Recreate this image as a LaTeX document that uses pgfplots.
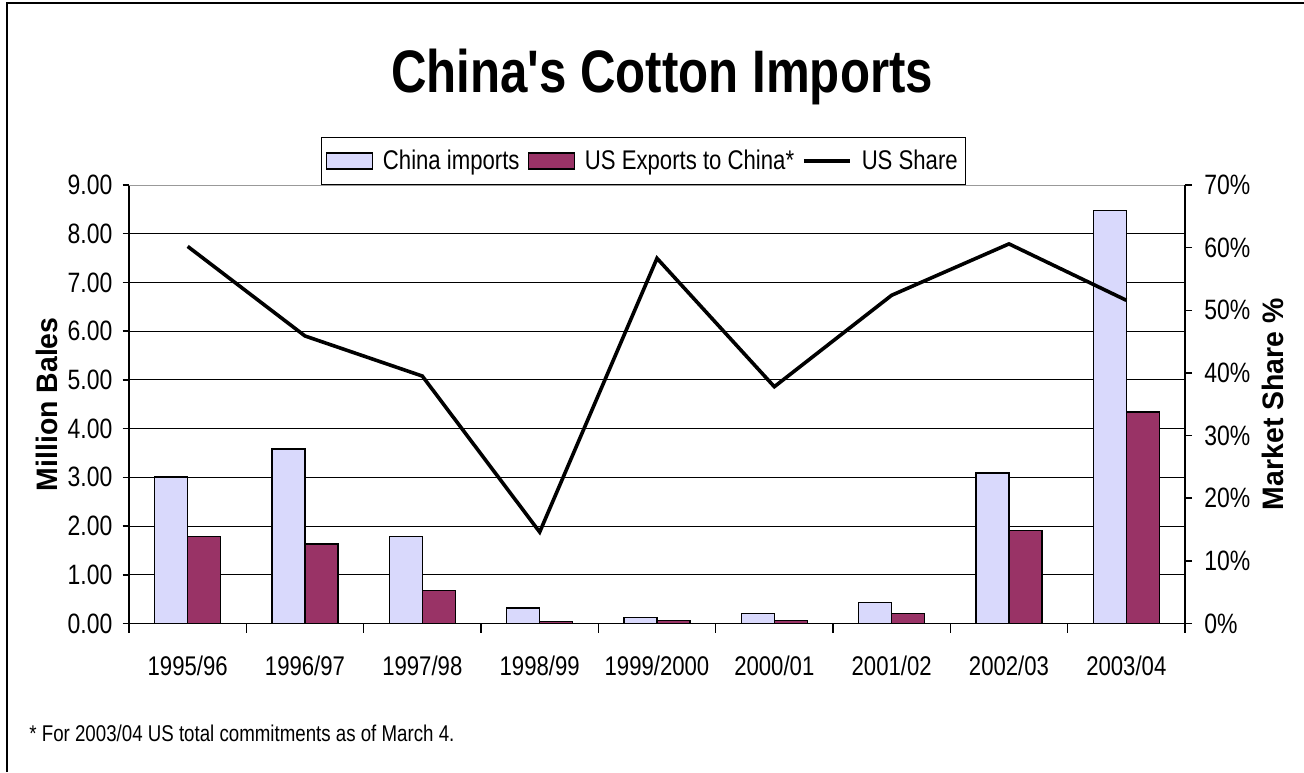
\documentclass[border=0pt]{standalone}
\usepackage{fontspec}
\setmainfont{Liberation Sans}[FakeStretch=0.82, Ligatures=TeXOff]
\newfontfamily\labfont{Liberation Sans}[FakeStretch=0.96]
\usepackage{pgfplots}
\pgfplotsset{compat=1.18}

\definecolor{chinac}{RGB}{217,217,252}
\definecolor{usc}{RGB}{153,51,102}

\pgfplotsset{
  barleg/.style={legend image code/.code={\draw[##1] (0pt,-4pt) rectangle (23pt,4pt);}},
  lineleg/.style={legend image code/.code={\draw[##1] (0pt,0pt) -- (23pt,0pt);}},
}

\begin{document}
\begin{tikzpicture}
\useasboundingbox (0,0) rectangle (652pt,386pt);
\draw[line width=1.2pt] (3.5pt,0) -- (3.5pt,384.5pt) -- (652pt,384.5pt);

\node[anchor=base, font=\fontsize{30}{36}\selectfont\bfseries] at (331pt,339.5pt) {China's Cotton Imports};

% bars, left axis
\begin{axis}[
    at={(64.5pt,74.25pt)}, anchor=south west,
    scale only axis, width=528pt, height=219.25pt,
    xmin=-0.5, xmax=8.5, ymin=0, ymax=9,
    axis x line*=bottom, axis y line*=left,
    axis line style={-, line width=0.75pt},
    ybar=0pt, bar width=0.281,
    xtick={0,...,8},
    xticklabels={1995/96,1996/97,1997/98,1998/99,1999/2000,2000/01,2001/02,2002/03,2003/04},
    major x tick style={draw=none},
    minor xtick={-0.5,0.5,...,8.5},
    tick align=outside,
    major tick length=3.25pt, minor tick length=4.5pt,
    tick style={black, line width=0.75pt},
    ytick={0,...,8},
    extra y ticks={9},
    extra y tick style={grid style={gray!80, line width=0.5pt}},
    ymajorgrids, grid style={black, line width=0.5pt},
    xticklabel style={anchor=base, inner sep=0pt, yshift=-22.5pt, font=\fontsize{13.5}{15}\selectfont},
    yticklabel style={anchor=east, inner sep=0pt, xshift=-4.9pt, font=\fontsize{14}{15}\selectfont},
    /pgf/number format/.cd, fixed, fixed zerofill, precision=2, assume math mode=true,
    /pgfplots/.cd,
    every axis y label/.style={at={(axis description cs:-0.0777,0.5)}, rotate=90, anchor=center},
    ylabel={Million Bales},
    ylabel style={font=\labfont\bfseries\fontsize{14.8}{16}\selectfont},
]
\addplot[fill=chinac, draw=black, line width=0.7pt] coordinates {
  (0,3.01) (1,3.58) (2,1.79) (3,0.32) (4,0.12) (5,0.21) (6,0.43) (7,3.09) (8,8.48)};
\addplot[fill=usc, draw=black, line width=0.7pt] coordinates {
  (0,1.79) (1,1.63) (2,0.68) (3,0.04) (4,0.06) (5,0.06) (6,0.20) (7,1.91) (8,4.34)};
\end{axis}

% share line, right axis
\begin{axis}[
    at={(64.5pt,74.25pt)}, anchor=south west,
    scale only axis, width=528pt, height=219.25pt,
    xmin=-0.5, xmax=8.5, ymin=0, ymax=70,
    axis x line=none, axis y line*=right,
    axis line style={-, line width=0.75pt},
    ytick={0,10,...,70},
    yticklabel={\pgfmathprintnumber{\tick}\%},
    tick align=outside, major tick length=3.5pt,
    tick style={black, line width=0.75pt},
    yticklabel style={anchor=west, inner sep=0pt, xshift=6pt, font=\fontsize{14}{15}\selectfont},
    /pgf/number format/assume math mode=true,
    every axis y label/.style={at={(axis description cs:1.0833,0.5)}, rotate=90, anchor=center},
    ylabel={Market Share \%},
    ylabel style={font=\labfont\bfseries\fontsize{14.8}{16}\selectfont},
    legend columns=3,
    legend cell align=left,
    legend style={at={(axis description cs:0.1818,1)}, anchor=south west,
      draw=black, line width=0.6pt, inner xsep=2pt, inner ysep=4pt,
      font=\fontsize{13.5}{15}\selectfont,
      nodes={inner sep=2pt},
      /tikz/every odd column/.append style={column sep=3pt},
      /tikz/every even column/.append style={column sep=2pt}},
]
\addlegendimage{barleg, fill=chinac, draw=black, line width=0.7pt}
\addlegendentry{China imports}
\addlegendimage{barleg, fill=usc, draw=black, line width=0.7pt}
\addlegendentry{US Exports to China*}
\addplot[lineleg, black, line width=1.8pt, mark=none] coordinates {
  (0,60.2) (1,45.9) (2,39.5) (3,14.6) (4,58.3) (5,37.8) (6,52.4) (7,60.6) (8,51.6)};
\addlegendentry{US Share}
\end{axis}

\node[anchor=base west, inner sep=0pt, font=\fontsize{11.4}{13}\selectfont] at (14.5pt,15.2pt) {* For 2003/04 US total commitments as of March 4.};
\end{tikzpicture}
\end{document}
